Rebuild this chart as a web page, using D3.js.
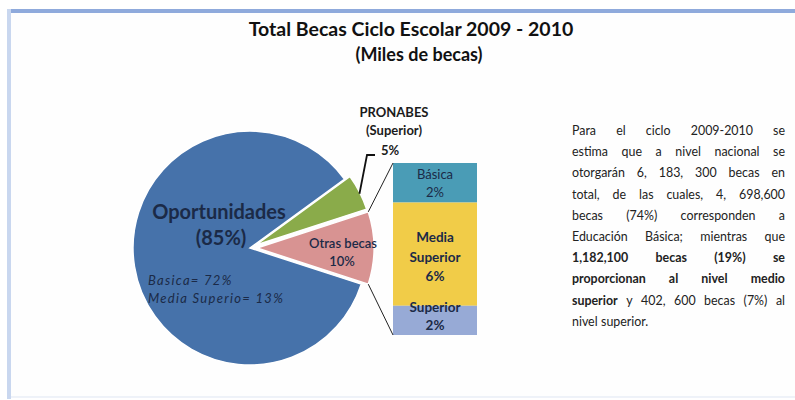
<!DOCTYPE html>
<html><head><meta charset="utf-8">
<script src="https://cdn.jsdelivr.net/npm/d3@7"></script>
<style>html,body{margin:0;padding:0;background:#fff;}svg{display:block;}</style>
</head><body>
<svg id="c" width="795" height="400"></svg>
<script>
// ---- data ----
const titleLines = ["Total Becas Ciclo Escolar 2009 - 2010", "(Miles de becas)"];
const pieCategories = ["Oportunidades", "PRONABES (Superior)", "Otras becas"];
const pieValues = [85, 5, 10];
const pieLabels = ["(85%)", "5%", "10%"];
const oportunidadesDetail = ["Basica= 72%", "Media Superio= 13%"];
const barCategories = ["Básica", "Media Superior", "Superior"];
const barValues = [2.3, 6.0, 1.7];
const barLabels = ["2%", "6%", "2%"];
const paragraphLines = [
  [["Para el ciclo 2009-2010 se", false]],
  [["estima que a nivel nacional se", false]],
  [["otorgarán 6, 183, 300 becas en", false]],
  [["total, de las cuales, 4, 698,600", false]],
  [["becas (74%) corresponden a", false]],
  [["Educación Básica; mientras que", false]],
  [["1,182,100 becas (19%) se", true]],
  [["proporcionan al nivel medio", true]],
  [["superior", true], ["y 402, 600 becas (7%) al", false]],
  [["nivel superior.", false]]
];

const svg = d3.select("#c");
const FONT = "Lato, 'Open Sans', sans-serif";

// frame
svg.append("rect").attr("x",0).attr("y",0).attr("width",795).attr("height",400).attr("fill","#fff");
svg.append("rect").attr("x",8).attr("y",11).attr("width",800).attr("height",386)
  .attr("fill","#fefefe").attr("stroke","#dfe6f3").attr("stroke-width",1);
svg.append("rect").attr("x",7).attr("y",9).attr("width",800).attr("height",4).attr("fill","#8faadc");
svg.append("rect").attr("x",7).attr("y",9).attr("width",4).attr("height",390).attr("fill","#c9d7ef");

// title
svg.append("text").attr("x",411).attr("y",36).attr("text-anchor","middle")
  .attr("font-family",FONT).attr("font-weight","bold").attr("font-size",19.5).attr("fill","#111")
  .text(titleLines[0]);
svg.append("text").attr("x",419).attr("y",61).attr("text-anchor","middle")
  .attr("font-family",FONT).attr("font-weight","bold").attr("font-size",18).attr("fill","#111")
  .text(titleLines[1]);

// pie
const cx = 250, cy = 248, R = 117;
const colors = ["#4672aa", "#8aab4a", "#d89392"];
const offsets = [0, 6, 7];
const pie = d3.pie().sort(null).startAngle(108*Math.PI/180).endAngle(108*Math.PI/180 + 2*Math.PI);
const arcs = pie(pieValues);
const arc = d3.arc().innerRadius(0).outerRadius(R);
const g = svg.append("g").attr("transform",`translate(${cx},${cy})`);
function shift(d,i){ const a=(d.startAngle+d.endAngle)/2; return [offsets[i]*Math.sin(a), -offsets[i]*Math.cos(a)]; }
g.selectAll("path.slice").data(arcs).join("path").attr("class","slice")
  .attr("d",arc).attr("fill",(d,i)=>colors[i])
  .attr("stroke","#fff").attr("stroke-width",1.5)
  .attr("transform",(d,i)=>{const s=shift(d,i);return `translate(${s[0]},${s[1]})`;});

// Oportunidades labels
svg.append("text").attr("x",219).attr("y",219).attr("text-anchor","middle")
  .attr("font-family",FONT).attr("font-weight","bold").attr("font-size",20).attr("fill","#1b2a47")
  .text(pieCategories[0]);
svg.append("text").attr("x",221).attr("y",245).attr("text-anchor","middle")
  .attr("font-family",FONT).attr("font-weight","bold").attr("font-size",20).attr("fill","#1b2a47")
  .text(pieLabels[0]);
oportunidadesDetail.forEach((t,i)=>{
  svg.append("text").attr("x",148).attr("y",285+i*18)
    .attr("font-family",FONT).attr("font-style","italic").attr("font-size",13)
    .attr("letter-spacing",1.3).attr("fill","#1b2a47")
    .text(t);
});

// Otras becas label
const pink = arcs[2], ps = shift(pink,2);
svg.append("text").attr("x",343).attr("y",248).attr("text-anchor","middle")
  .attr("font-family",FONT).attr("font-weight",600).attr("font-size",13).attr("fill","#1b2a47").text(pieCategories[2]);
svg.append("text").attr("x",342).attr("y",266).attr("text-anchor","middle")
  .attr("font-family",FONT).attr("font-weight",600).attr("font-size",13).attr("fill","#1b2a47").text(pieLabels[2]);

// PRONABES label + leader
const green = arcs[1], gs = shift(green,1);
const gm = (green.startAngle+green.endAngle)/2;
const gx = cx+gs[0]+R*0.97*Math.sin(gm), gy = cy+gs[1]-R*0.97*Math.cos(gm);
const pn = pieCategories[1].split(" ");
svg.append("text").attr("x",394).attr("y",117).attr("text-anchor","middle")
  .attr("font-family",FONT).attr("font-weight","bold").attr("font-size",13).attr("fill","#1b1b1b").text(pn[0]);
svg.append("text").attr("x",394).attr("y",135).attr("text-anchor","middle")
  .attr("font-family",FONT).attr("font-weight","bold").attr("font-size",13).attr("fill","#1b1b1b").text(pn[1]);
svg.append("text").attr("x",390).attr("y",155).attr("text-anchor","middle")
  .attr("font-family",FONT).attr("font-weight","bold").attr("font-size",13).attr("fill","#1b1b1b").text(pieLabels[1]);
svg.append("path").attr("d",`M375,155 L367,155 L${gx+3},${gy}`)
  .attr("fill","none").attr("stroke","#111").attr("stroke-width",1.8);

// stacked bar
const bx = 393, bw = 84;
const total = d3.sum(barValues);
const y = d3.scaleLinear().domain([0, total]).range([335, 163]);
let acc = 0;
const segs = barValues.map((v,i)=>{ const s={i, v, top: acc}; acc+=v; return s; });
const barColors = ["#4a9cb6", "#f1cc48", "#97aad6"];
svg.selectAll("rect.seg").data(segs).join("rect").attr("class","seg")
  .attr("x",bx).attr("width",bw)
  .attr("y",d=>y(total-d.top))
  .attr("height",d=>y(total-d.top-d.v)-y(total-d.top))
  .attr("fill",d=>barColors[d.i]);
const labelSpecs = [
  {lines:[barCategories[0], barLabels[0]], y0:179, bold:false, ls:18},
  {lines:["Media","Superior", barLabels[1]], y0:242, bold:true, ls:19.5},
  {lines:[barCategories[2], barLabels[2]], y0:312, bold:true, ls:18}
];
labelSpecs.forEach(s=>{
  s.lines.forEach((t,j)=>{
    svg.append("text").attr("x",bx+bw/2).attr("y",s.y0+j*s.ls).attr("text-anchor","middle")
      .attr("font-family",FONT).attr("font-weight",s.bold?"bold":"normal")
      .attr("font-size",s.bold?13.5:13).attr("fill","#1b2a47").text(t);
  });
});

// connector lines from pink slice edges to bar corners
const pa1 = pink.startAngle, pa2 = pink.endAngle;
const p1 = [cx+ps[0]+R*Math.sin(pa1), cy+ps[1]-R*Math.cos(pa1)];
const p2 = [cx+ps[0]+R*Math.sin(pa2), cy+ps[1]-R*Math.cos(pa2)];
svg.append("line").attr("x1",p1[0]).attr("y1",p1[1]).attr("x2",bx).attr("y2",y(total))
  .attr("stroke","#222").attr("stroke-width",1);
svg.append("line").attr("x1",p2[0]).attr("y1",p2[1]).attr("x2",bx).attr("y2",y(0))
  .attr("stroke","#222").attr("stroke-width",1);

// paragraph (justified), slightly condensed horizontally
const sx = 0.9, px0 = 572, px1 = 785, py0 = 135, lh = 21.2;
const pg = svg.append("g").attr("transform",`translate(${px0},0) scale(${sx},1)`);
const W = (px1-px0)/sx;
paragraphLines.forEach((line, li)=>{
  const words = [];
  line.forEach(([txt,bold])=> txt.split(" ").forEach(w=>words.push({w,bold})));
  const ty = py0 + li*lh;
  const nodes = words.map(o=> pg.append("text").attr("y",ty)
      .attr("font-family",FONT).attr("font-size",13.8).attr("fill","#222")
      .attr("font-weight",o.bold?"bold":"normal").text(o.w));
  const widths = nodes.map(n=>n.node().getComputedTextLength());
  const sum = d3.sum(widths);
  const last = li === paragraphLines.length-1;
  const gap = (last || words.length<2) ? 3.8 : (W-sum)/(words.length-1);
  let x = 0;
  nodes.forEach((n,k)=>{ n.attr("x",x); x += widths[k]+gap; });
});
</script>
</body></html>
